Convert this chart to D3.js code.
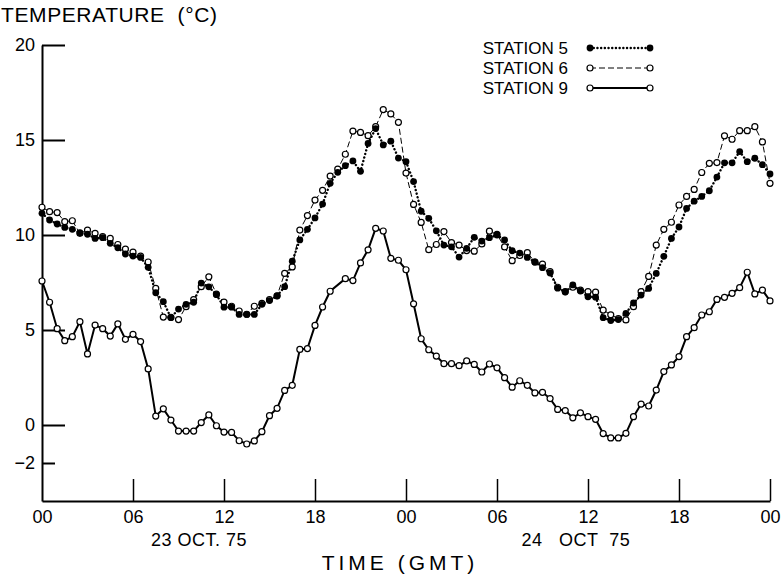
<!DOCTYPE html>
<html>
<head>
<meta charset="utf-8">
<script src="https://cdn.jsdelivr.net/npm/d3@7"></script>
<style>
  body { margin: 0; background: #fff; }
  svg { display: block; font-family: "Liberation Sans", Arial, sans-serif; }
</style>
</head>
<body>
<svg id="chart" width="782" height="575"></svg>
<script>
// half-hourly readings, hours since 00 GMT 23 Oct 75
var hours = [
  0, 0.5, 1, 1.5, 2, 2.5, 3, 3.5, 4, 4.5, 5, 5.5, 6, 6.5, 7, 7.5, 8, 8.5, 9, 9.5,
  10, 10.5, 11, 11.5, 12, 12.5, 13, 13.5, 14, 14.5, 15, 15.5, 16, 16.5, 17, 17.5, 18, 18.5, 19, 19.5,
  20, 20.5, 21, 21.5, 22, 22.5, 23, 23.5, 24, 24.5, 25, 25.5, 26, 26.5, 27, 27.5, 28, 28.5, 29, 29.5,
  30, 30.5, 31, 31.5, 32, 32.5, 33, 33.5, 34, 34.5, 35, 35.5, 36, 36.5, 37, 37.5, 38, 38.5, 39, 39.5,
  40, 40.5, 41, 41.5, 42, 42.5, 43, 43.5, 44, 44.5, 45, 45.5, 46, 46.5, 47, 47.5, 48
];

var station5 = [
  11.14, 10.79, 10.58, 10.4, 10.3, 10.12, 10.04, 9.82, 9.86, 9.56, 9.33, 9.0, 8.89, 8.82, 8.3, 6.96, 6.49, 5.65, 6.1, 6.35,
  6.46, 7.47, 7.27, 6.86, 6.2, 6.2, 5.82, 5.82, 5.82, 6.35, 6.55, 6.8, 7.28, 8.62, 9.74, 10.3, 10.9, 11.63, 12.72, 13.3,
  13.65, 13.9, 13.35, 14.82, 15.6, 14.74, 14.94, 14.05, 13.86, 12.81, 11.25, 10.88, 10.22, 9.47, 9.38, 8.84, 9.3, 9.88, 9.68, 9.86,
  10.0, 9.74, 9.17, 9.05, 8.82, 8.58, 8.28, 8.0, 7.2, 7.0, 7.37, 7.05, 6.75, 6.73, 5.65, 5.5, 5.55, 5.88, 6.42, 6.84,
  7.19, 7.98, 8.88, 9.82, 10.42, 11.4, 11.78, 12.03, 12.33, 13.05, 13.8, 13.8, 14.39, 13.86, 14.04, 13.7, 13.21
];

var station6 = [
  11.46, 11.23, 11.18, 10.7, 10.75, 10.09, 10.26, 10.09, 9.91, 9.82, 9.5, 9.26, 9.1, 8.89, 8.58, 7.19, 5.68, 5.67, 5.55, 6.23,
  6.6, 7.28, 7.8, 6.89, 6.47, 6.25, 6.0, 5.83, 6.25, 6.4, 6.6, 6.8, 7.98, 8.32, 10.26, 11.02, 11.84, 12.35, 13.1, 13.47,
  14.25, 15.47, 15.4, 15.23, 15.7, 16.6, 16.37, 15.93, 13.26, 11.61, 10.66, 9.23, 9.5, 10.18, 9.6, 9.47, 9.18, 9.15, 9.53, 10.2,
  10.03, 9.37, 8.65, 8.92, 9.07, 8.58, 8.47, 8.07, 7.25, 7.02, 7.25, 7.1, 7.02, 6.99, 6.05, 5.8, 5.6, 5.53, 6.23, 7.02,
  7.82, 9.47, 10.3, 10.67, 11.58, 12.03, 12.4, 13.29, 13.77, 13.81, 15.22, 15.04, 15.49, 15.49, 15.7, 14.9, 12.72
];

var station9 = [
  7.58, 6.46, 5.07, 4.44, 4.65, 5.44, 3.74, 5.26, 5.07, 4.68, 5.32, 4.51, 4.77, 4.39, 2.95, 0.47, 0.85, 0.26, -0.32, -0.32,
  -0.32, 0.13, 0.53, -0.04, -0.37, -0.39, -0.83, -1.0, -0.84, -0.35, 0.49, 0.88, 1.82, 2.09, 3.98, 4.02, 5.24, 6.21, 7.04, null,
  7.7, 7.6, 8.53, 9.22, 10.35, 10.21, 8.77, 8.67, 8.17, 6.38, 4.54, 3.96, 3.63, 3.23, 3.23, 3.12, 3.37, 3.19, 2.79, 3.21,
  3.01, 2.49, 1.99, 2.33, 2.09, 1.69, 1.72, 1.39, 0.82, 0.76, 0.38, 0.64, 0.44, 0.3, -0.45, -0.68, -0.68, -0.44, 0.44, 1.1,
  1.0, 1.84, 2.81, 3.16, 3.6, 4.65, 5.12, 5.79, 5.96, 6.61, 6.72, 6.93, 7.23, 8.04, 6.9, 7.1, 6.53
];

var xTicks = [0, 6, 12, 18, 24, 30, 36, 42, 48];
var xTickLabels = ['00', '06', '12', '18', '00', '06', '12', '18', '00'];
var yTicks = [20, 15, 10, 5, 0, -2];
var dateLabels = [
  { hour: 10.35, text: '23 OCT. 75' },
  { hour: 35.2, text: '24   OCT  75' }
];
var legendNames = ['STATION 5', 'STATION 6', 'STATION 9'];

var svg = d3.select('#chart');

var xScale = d3.scaleLinear().domain([0, 48]).range([42, 770]);
var yScale = d3.scaleLinear().domain([-4, 20]).range([501, 45]);

function toPoints(vals) {
  return hours.map(function(h, i) { return { h: h, v: vals[i] }; })
    .filter(function(d) { return d.v != null; });
}

var line = d3.line()
  .x(function(d) { return xScale(d.h); })
  .y(function(d) { return yScale(d.v); });

// axes
var xAxis = d3.axisBottom(xScale)
  .tickValues(xTicks)
  .tickSizeInner(-22)
  .tickSizeOuter(0)
  .tickPadding(10)
  .tickFormat(function(d, i) { return xTickLabels[i]; });

var gx = svg.append('g')
  .attr('transform', 'translate(0,' + yScale(-4) + ')')
  .call(xAxis);
gx.select('.domain').attr('stroke', '#000').attr('stroke-width', 2);
gx.selectAll('.tick line').attr('stroke', '#000').attr('stroke-width', 1.5);
gx.selectAll('.tick').filter(function(d) { return d === 0; }).select('line').remove();
gx.selectAll('.tick text')
  .attr('y', 9)
  .attr('dy', '0.71em')
  .attr('font-size', 18)
  .attr('font-family', '"Liberation Sans", Arial, sans-serif')
  .attr('fill', '#000');

var yAxis = d3.axisLeft(yScale)
  .tickValues(yTicks)
  .tickSizeInner(-23)
  .tickSizeOuter(0)
  .tickPadding(7)
  .tickFormat(d3.format('d'));

var gy = svg.append('g')
  .attr('transform', 'translate(' + xScale(0) + ',0)')
  .call(yAxis);
gy.select('.domain').attr('stroke', '#000').attr('stroke-width', 2);
gy.selectAll('.tick line').attr('stroke', '#000').attr('stroke-width', 2);
gy.selectAll('.tick').filter(function(d) { return d === -2; }).select('line').attr('x2', 13);
gy.selectAll('.tick text')
  .attr('font-size', 18)
  .attr('font-family', '"Liberation Sans", Arial, sans-serif')
  .attr('fill', '#000');

// series lines
var p5 = toPoints(station5), p6 = toPoints(station6), p9 = toPoints(station9);

svg.append('path').datum(p6)
  .attr('d', line).attr('fill', 'none').attr('stroke', '#000')
  .attr('stroke-width', 1).attr('stroke-dasharray', '6,3');

svg.append('path').datum(p5)
  .attr('d', line).attr('fill', 'none').attr('stroke', '#000')
  .attr('stroke-width', 2.4).attr('stroke-linecap', 'round').attr('stroke-dasharray', '0.1,3.6');

svg.append('path').datum(p9)
  .attr('d', line).attr('fill', 'none').attr('stroke', '#000')
  .attr('stroke-width', 2);

// markers
svg.append('g').selectAll('circle').data(p6).enter().append('circle')
  .attr('cx', function(d) { return xScale(d.h); })
  .attr('cy', function(d) { return yScale(d.v); })
  .attr('r', 3).attr('fill', '#fff').attr('stroke', '#000').attr('stroke-width', 1.2);

svg.append('g').selectAll('circle').data(p5).enter().append('circle')
  .attr('cx', function(d) { return xScale(d.h); })
  .attr('cy', function(d) { return yScale(d.v); })
  .attr('r', 3.4).attr('fill', '#000');

svg.append('g').selectAll('circle').data(p9).enter().append('circle')
  .attr('cx', function(d) { return xScale(d.h); })
  .attr('cy', function(d) { return yScale(d.v); })
  .attr('r', 3).attr('fill', '#fff').attr('stroke', '#000').attr('stroke-width', 1.2);

// legend
var legY = [48, 68, 88];
var leg = svg.append('g');
legendNames.forEach(function(name, i) {
  leg.append('text').attr('x', 568).attr('y', legY[i]).attr('dy', '0.35em')
    .attr('text-anchor', 'end').attr('font-size', 17).text(name);
  var l = leg.append('line').attr('x1', 590).attr('x2', 650)
    .attr('y1', legY[i]).attr('y2', legY[i]).attr('stroke', '#000');
  if (i === 0) l.attr('stroke-width', 2.4).attr('stroke-linecap', 'round').attr('stroke-dasharray', '0.1,3.6');
  else if (i === 1) l.attr('stroke-width', 1).attr('stroke-dasharray', '6,3');
  else l.attr('stroke-width', 2);
  [590, 650].forEach(function(cx) {
    var c = leg.append('circle').attr('cx', cx).attr('cy', legY[i]);
    if (i === 0) c.attr('r', 3.4).attr('fill', '#000');
    else c.attr('r', 3).attr('fill', '#fff').attr('stroke', '#000').attr('stroke-width', 1.2);
  });
});

// titles
svg.append('text').attr('x', 1).attr('y', 22)
  .attr('font-size', 21).attr('letter-spacing', 0.6).attr('xml:space', 'preserve')
  .text('TEMPERATURE  (\u00B0C)');

svg.append('g').selectAll('text').data(dateLabels).enter().append('text')
  .attr('x', function(d) { return xScale(d.hour); })
  .attr('y', 546).attr('text-anchor', 'middle').attr('font-size', 18)
  .attr('letter-spacing', 0.5).attr('xml:space', 'preserve')
  .text(function(d) { return d.text; });

svg.append('text').attr('x', 400).attr('y', 570)
  .attr('text-anchor', 'middle').attr('font-size', 21).attr('letter-spacing', 4)
  .text('TIME (GMT)');
</script>
</body>
</html>
